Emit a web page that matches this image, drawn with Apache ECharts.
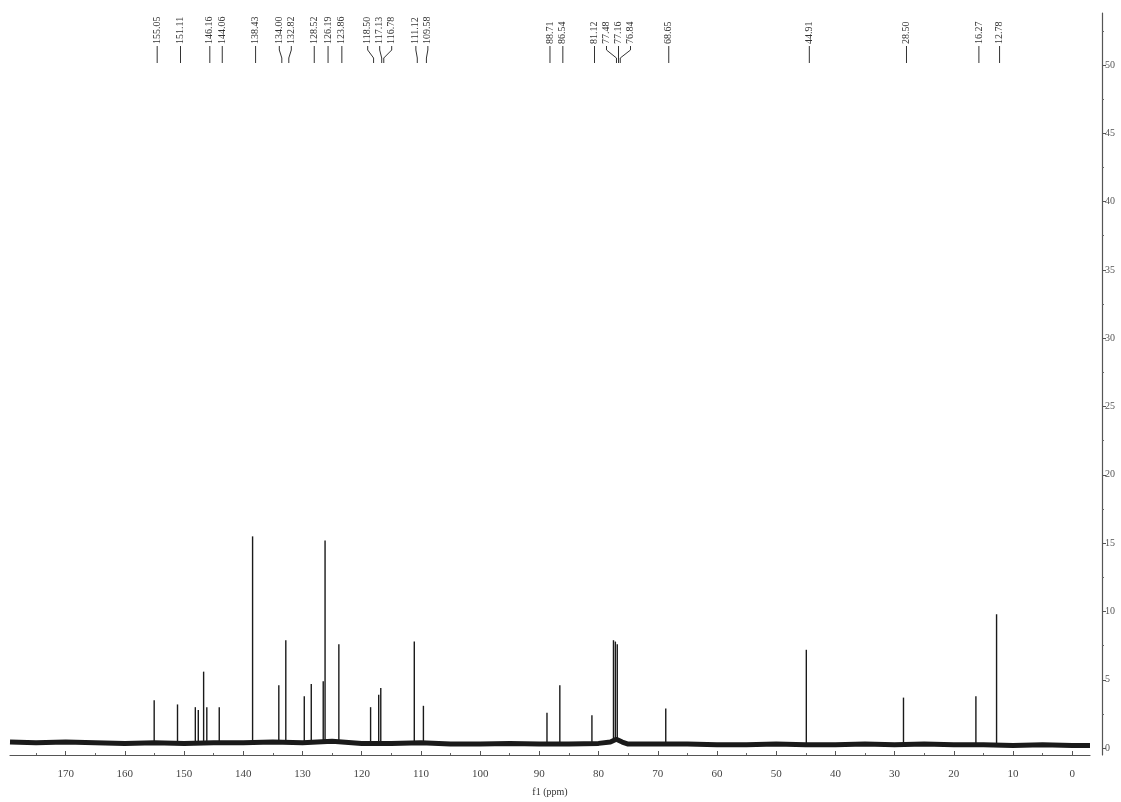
<!DOCTYPE html>
<html>
<head>
<meta charset="utf-8">
<script src="https://cdn.jsdelivr.net/npm/echarts@6/dist/echarts.min.js"></script>
<style>
html,body{margin:0;padding:0;background:#fff;}
#chart{width:1121px;height:802px;}
</style>
</head>
<body>
<div id="chart"></div>
<script>
// ---- data ----
const peakPpm = [155.05,151.11,148.1,147.6,146.7,146.16,144.06,138.43,134.00,132.82,129.7,128.52,126.5,126.19,123.86,118.50,117.13,116.78,111.12,109.58,88.71,86.54,81.12,77.48,77.16,76.84,68.65,44.91,28.50,16.27,12.78];
const peakHeight = [3.5,3.2,3.0,2.8,5.6,3.0,3.0,15.5,4.6,7.9,3.8,4.7,4.9,15.2,7.6,3.0,3.9,4.4,7.8,3.1,2.6,4.6,2.4,7.9,7.8,7.6,2.9,7.2,3.7,3.8,9.8];
const labelPpm = [155.05,151.11,146.16,144.06,138.43,134.00,132.82,128.52,126.19,123.86,118.50,117.13,116.78,111.12,109.58,88.71,86.54,81.12,77.48,77.16,76.84,68.65,44.91,28.50,16.27,12.78];
const baselinePpm = [179.4,175,170,165,160,155,150,145,140,135,130,125,120,115,110,105,100,95,90,85,80,78,77,76,75,70,65,60,55,50,45,40,35,30,25,20,15,10,5,0,-3];
const baselineVal = [0.45,0.4,0.45,0.4,0.35,0.4,0.35,0.4,0.4,0.45,0.4,0.5,0.35,0.35,0.4,0.3,0.3,0.35,0.3,0.3,0.35,0.45,0.65,0.45,0.3,0.3,0.3,0.25,0.25,0.3,0.25,0.25,0.3,0.25,0.3,0.25,0.25,0.2,0.25,0.2,0.2];
const xMajorTicks = [0,10,20,30,40,50,60,70,80,90,100,110,120,130,140,150,160,170];
const xMinorTicks = [5,15,25,35,45,55,65,75,85,95,105,115,125,135,145,155,165,175];
const yMajorTicks = [0,5,10,15,20,25,30,35,40,45,50];
const yMinorTicks = [2.5,7.5,12.5,17.5,22.5,27.5,32.5,37.5,42.5,47.5,52.5];

const FONT = '"Liberation Serif","DejaVu Serif",serif';
const X_MIN = -3, X_MAX = 179.4, Y_MIN = -0.5, Y_MAX = 53.8;

const chart = echarts.init(document.getElementById('chart'), null, {renderer:'canvas'});

function baseAt(p){
  for (let i=0;i<baselinePpm.length-1;i++){
    const a=baselinePpm[i], b=baselinePpm[i+1];
    if (p<=a && p>=b){ const t=(a-p)/(a-b); return baselineVal[i]+(baselineVal[i+1]-baselineVal[i])*t; }
  }
  return baselineVal[baselineVal.length-1];
}

const peakData = peakPpm.map((p,i)=>[p, peakHeight[i], baseAt(p)]);
const baseData = baselinePpm.map((p,i)=>[p, baselineVal[i]]);

const xBase = {type:'value', min:X_MIN, max:X_MAX, inverse:true, position:'bottom', splitLine:{show:false}};
const yBase = {type:'value', min:Y_MIN, max:Y_MAX, position:'right', offset:12, splitLine:{show:false}};

chart.setOption({
  backgroundColor:'#fff',
  animation:false,
  grid:{left:10, right:31, top:13, bottom:39, containLabel:false},
  xAxis:[
    Object.assign({}, xBase, {
      name:'f1 (ppm)', nameLocation:'middle', nameGap:32,
      nameTextStyle:{fontFamily:FONT, fontSize:10, color:'#333'},
      axisLine:{show:true, onZero:false, lineStyle:{color:'#555', width:1.2}},
      axisTick:{show:true, inside:true, length:4, customValues:xMajorTicks, lineStyle:{color:'#555'}},
      axisLabel:{show:true, customValues:xMajorTicks, margin:14, fontFamily:FONT, fontSize:11, color:'#444'}
    }),
    Object.assign({}, xBase, {
      axisLine:{show:false, onZero:false},
      axisTick:{show:true, inside:true, length:2, customValues:xMinorTicks, lineStyle:{color:'#666'}},
      axisLabel:{show:false}
    })
  ],
  yAxis:[
    Object.assign({}, yBase, {
      axisLine:{show:true, onZero:false, lineStyle:{color:'#555', width:1.2}},
      axisTick:{show:true, length:4, customValues:yMajorTicks, lineStyle:{color:'#555'}},
      axisLabel:{show:true, customValues:yMajorTicks, margin:3, fontFamily:FONT, fontSize:10, color:'#555'}
    }),
    Object.assign({}, yBase, {
      axisLine:{show:false, onZero:false},
      axisTick:{show:true, length:2, customValues:yMinorTicks, lineStyle:{color:'#666'}},
      axisLabel:{show:false}
    })
  ],
  series:[
    {
      type:'line', data:baseData, xAxisIndex:0, yAxisIndex:0, symbol:'none', smooth:false,
      lineStyle:{color:'#1a1a1a', width:5}, silent:true
    },
    {
      type:'custom', data:peakData, xAxisIndex:0, yAxisIndex:0, silent:true,
      renderItem:function(params, api){
        const top = api.coord([api.value(0), api.value(1)]);
        const bot = api.coord([api.value(0), api.value(2)]);
        return {type:'line', shape:{x1:top[0], y1:top[1], x2:bot[0], y2:bot[1]},
          style:{stroke:'#1a1a1a', lineWidth:1.4}};
      }
    }
  ]
});

// ---- peak labels placed via the x scale ----
const OFF = 3, GAP = 12;
const px = labelPpm.map(p => chart.convertToPixel({xAxisIndex:0}, p));
const desired = px.map(x => x + OFF);
let clusters = desired.map((d,i)=>({idx:[i], center:d}));
function clusterPos(c){ const n=c.idx.length; const start=c.center-(n-1)*GAP/2; return c.idx.map((_,k)=>start+k*GAP); }
let changed = true;
while (changed){
  changed = false;
  for (let i=0;i<clusters.length-1;i++){
    const a = clusterPos(clusters[i]), b = clusterPos(clusters[i+1]);
    if (b[0]-a[a.length-1] < GAP){
      const idx = clusters[i].idx.concat(clusters[i+1].idx);
      const center = idx.reduce((s,j)=>s+desired[j],0)/idx.length;
      clusters.splice(i,2,{idx, center});
      changed = true; break;
    }
  }
}
const lx = new Array(labelPpm.length);
clusters.forEach(c => { const pos = clusterPos(c); c.idx.forEach((j,k)=>lx[j]=pos[k]); });

const graphics = [];
labelPpm.forEach((p,i)=>{
  const x = lx[i], d = desired[i];
  graphics.push({
    type:'text', x:x, y:44, rotation:Math.PI/2, silent:true,
    style:{text:p.toFixed(2), font:'10px ' + FONT, fill:'#333', align:'left', verticalAlign:'middle'}
  });
  const pts = Math.abs(x-d) < 0.5 ? [[x,46],[x,63]] : [[x,46],[x,50],[d,58],[d,63]];
  graphics.push({type:'polyline', silent:true, shape:{points:pts}, style:{stroke:'#333', lineWidth:1, fill:null}});
});
chart.setOption({graphic:graphics});
</script>
</body>
</html>
